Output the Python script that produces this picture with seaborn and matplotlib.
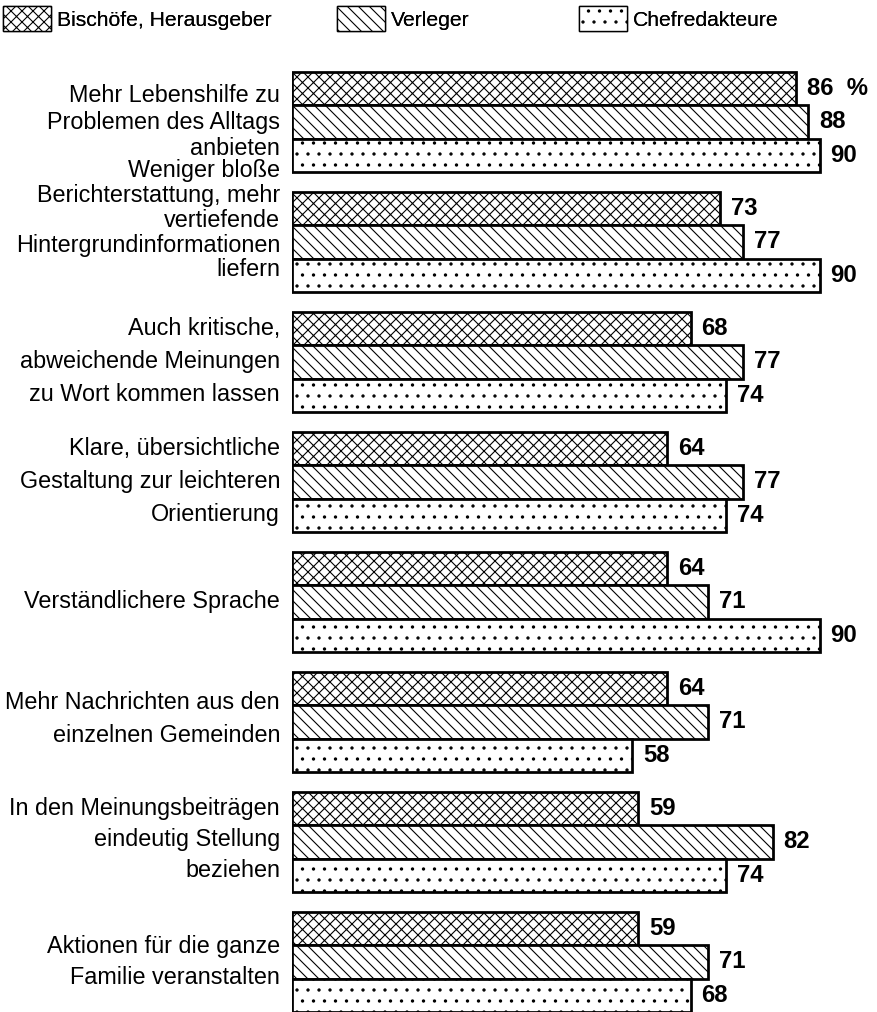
import pandas as pd
import matplotlib.pyplot as plt
import matplotlib.patches as mpatches
import matplotlib.transforms as mtransforms
import seaborn as sns

items = [
    "Mehr Lebenshilfe zu\nProblemen des Alltags\nanbieten",
    "Weniger bloße\nBerichterstattung, mehr\nvertiefende\nHintergrundinformationen\nliefern",
    "Auch kritische,\nabweichende Meinungen\nzu Wort kommen lassen",
    "Klare, übersichtliche\nGestaltung zur leichteren\nOrientierung",
    "Verständlichere Sprache",
    "Mehr Nachrichten aus den\neinzelnen Gemeinden",
    "In den Meinungsbeiträgen\neindeutig Stellung\nbeziehen",
    "Aktionen für die ganze\nFamilie veranstalten",
]
groups = ["Bischöfe, Herausgeber", "Verleger", "Chefredakteure"]
bischoefe = [86, 73, 68, 64, 64, 64, 59, 59]
verleger = [88, 77, 77, 77, 71, 71, 82, 71]
chefredakteure = [90, 90, 74, 74, 90, 58, 74, 68]
hatches = ["xx", "\\\\", "."]

rows = []
for g, vals in zip(groups, [bischoefe, verleger, chefredakteure]):
    for item, v in zip(items, vals):
        rows.append({"item": item, "group": g, "value": v})
df = pd.DataFrame(rows)

sns.set_style("white")
plt.rcParams["font.family"] = ["Liberation Sans", "DejaVu Sans"]
plt.rcParams["text.color"] = "black"
plt.rcParams["ytick.color"] = "black"
plt.rcParams["hatch.linewidth"] = 1.2

W, H, DPI = 877, 1012, 66
fig = plt.figure(figsize=(W / DPI, H / DPI), dpi=DPI)
ax = fig.add_axes([292 / W, 0, 585 / W, 950 / H])

sns.barplot(data=df, y="item", x="value", hue="group", orient="h",
            order=items, hue_order=groups, width=0.833,
            palette={g: "white" for g in groups}, saturation=1,
            edgecolor="black", linewidth=3, legend=False, ax=ax)

for cont, hatch, vals in zip(ax.containers, hatches,
                             [bischoefe, verleger, chefredakteure]):
    for bar in cont:
        bar.set_hatch(hatch)
    labels = [str(v) for v in vals]
    if hatch == "xx":
        labels[0] = labels[0] + "  %"
    ax.bar_label(cont, labels=labels, padding=12, fontsize=26,
                 fontweight="bold", color="black")

ax.set_xlim(0, 99.8)
ax.set_ylim(7.417, -0.5)
ax.set_xlabel("")
ax.set_ylabel("")
ax.set_xticks([])
ax.tick_params(axis="y", length=0, pad=13, labelsize=25.5,
               labelcolor="black")

# line spacing and small upward shift of each label (pixels)
spacing = [1.19, 1.1, 1.55, 1.55, 1.5, 1.55, 1.45, 1.4]
shift_px = [4, 25, 8, 8, 3, 10, 9, 6]
for t, ls, dy in zip(ax.get_yticklabels(), spacing, shift_px):
    t.set_linespacing(ls)
    t.set_transform(t.get_transform() +
                    mtransforms.ScaledTranslation(0, dy / DPI, fig.dpi_scale_trans))
sns.despine(ax=ax, left=True, bottom=True)

# legend, one per entry so the spacing follows the original
leg_x = [3, 337, 579]
for g, hatch, x in zip(groups, hatches, leg_x):
    h = mpatches.Patch(facecolor="white", edgecolor="black", hatch=hatch,
                       linewidth=1.5, label=g)
    fig.add_artist(fig.legend(handles=[h], loc="upper left",
                              bbox_to_anchor=(x / W, 1 - 6 / H),
                              frameon=False, fontsize=23, handlelength=2.3,
                              handleheight=1.45, handletextpad=0.25,
                              borderpad=0, borderaxespad=0))

fig.savefig("out.png", dpi=DPI)
